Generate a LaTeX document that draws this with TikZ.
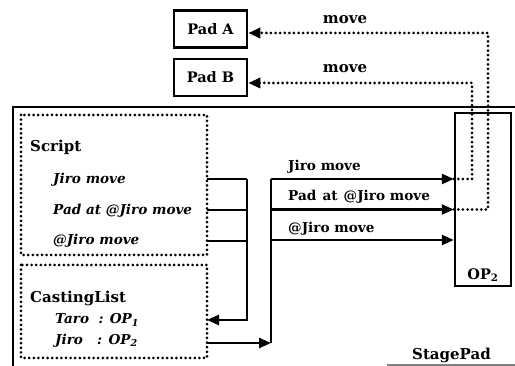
\documentclass[tikz,border=0pt]{standalone}
\usepackage{fontspec}
\setmainfont{DejaVu Serif}
\usetikzlibrary{arrows.meta}
\begin{document}
\begin{tikzpicture}[x=1pt,y=-1pt,
  solidl/.style={line width=2.5pt},
  arr/.style={line width=2.5pt,-{Triangle[length=12pt,width=10pt]}},
  dotl/.style={line width=3pt,line cap=round,dash pattern=on 0pt off 4.6pt},
  dotarr/.style={dotl,-{Triangle[length=12pt,width=10pt]}},
  boxs/.style={draw,line width=2.5pt,minimum width=73pt,minimum height=37pt,font=\fontsize{14.5}{16}\selectfont\bfseries},
  head/.style={anchor=west,inner sep=0pt,font=\fontsize{15}{17}\selectfont\bfseries},
  lbl/.style={anchor=west,inner sep=0pt,font=\fontsize{13.6}{15}\selectfont\bfseries},
  itl/.style={anchor=west,inner sep=0pt,font=\fontsize{13.6}{15}\selectfont\bfseries\itshape}]
\useasboundingbox (0,0) rectangle (515,366);
% StagePad frame
\draw[solidl] (13,368) -- (13,107) -- (517,107);
\draw[gray,line width=1.2pt] (387,365) -- (515,365);
\node[head] (stage) at (412,355) {StagePad};
% Pads
\node[boxs] (padA) at (210.5,29) {Pad A};
\node[boxs] (padB) at (210.5,77.5) {Pad B};
% Script and CastingList boxes
\draw[dotl] (21,115) rectangle (207,255);
\draw[dotl] (21,265) rectangle (207,358);
\coordinate (scriptE) at (207,115);
\node[head] (script) at (30,147) {Script};
\node[itl] (s1) at (53,180) {Jiro move};
\node[itl] (s2) at (53,211) {Pad at @Jiro move};
\node[itl] (s3) at (53,241) {@Jiro move};
\node[head] (cast) at (30,298) {CastingList};
\node[itl] (taro) at (55,320) {Taro\ \ : OP\textsubscript{1}};
\node[itl] (jiro) at (55,341) {Jiro\ \ \ : OP\textsubscript{2}};
% OP2
\node[draw,line width=2.5pt,minimum width=56pt,minimum height=173pt,inner sep=0pt] (op2) at (483,199.5) {};
\node[lbl,anchor=center,font=\fontsize{14.5}{16}\selectfont\bfseries] (op2l) at (483,275) {OP\textsubscript{2}};
% junction coordinates
\coordinate (vL) at (247,179);
\coordinate (vLb) at (247,320);
\coordinate (tTip) at (207,320);
\coordinate (j0) at (207,343);
\coordinate (vR) at (271,179);
\coordinate (vRb) at (271,343);
\coordinate (r2) at (271,209.5);
\coordinate (r3) at (271,240);
\coordinate (l2) at (207,210);
\coordinate (l3) at (207,241);
% script lines to left bus
\draw[solidl] (scriptE |- vL) -- (vL);
\draw[solidl] (l2) -- (l2 -| vL);
\draw[solidl] (l3) -- (l3 -| vL);
\draw[arr] (vL) -- (vLb) -- (tTip);
% Jiro line to right bus
\draw[arr] (j0) -- (vRb);
\draw[solidl] (vRb) -- (vR);
\draw[arr] (vR) -- (vR -| op2.west);
\draw[arr] (r2) -- (r2 -| op2.west);
\draw[arr] (r3) -- (r3 -| op2.west);
\node[lbl] (m1) at (288,167) {Jiro move};
\node[lbl] (m2) at (288,197) {Pad\hspace{0.45em}at\hspace{0.45em}@Jiro\hspace{0.35em}move};
\node[lbl] (m3) at (288,229) {@Jiro\hspace{0.35em}move};
% dotted moves
\coordinate (dB) at (472,83);
\coordinate (dA) at (488,33);
\draw[dotarr] (op2.west |- vR) -- (vR -| dB) -- (dB) -- (dB -| padB.east);
\draw[dotarr] (op2.west |- r2) -- (r2 -| dA) -- (dA) -- (dA -| padA.east);
\node[head,anchor=center] (mvA) at (345,20) {move};
\node[head,anchor=center] (mvB) at (345,69) {move};
\end{tikzpicture}
\end{document}
